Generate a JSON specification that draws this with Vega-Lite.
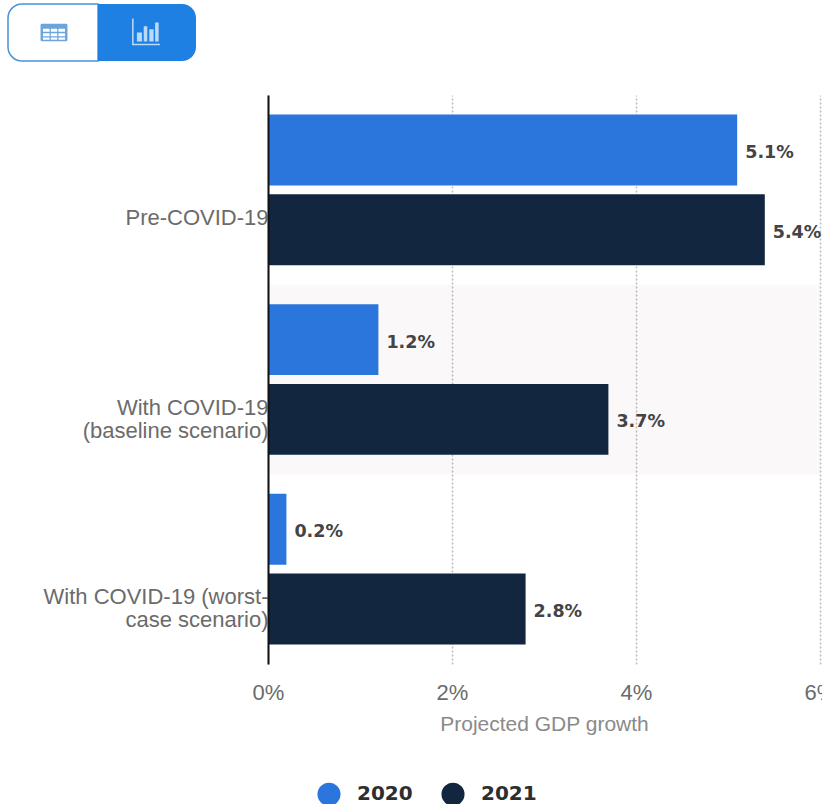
{
  "$schema": "https://vega.github.io/schema/vega-lite/v6.json",
  "padding": {"left": 7, "top": 3, "right": 0, "bottom": 0},
  "background": "#ffffff",
  "spacing": 33,
  "config": {"view": {"stroke": null}, "font": "Liberation Sans"},
  "datasets": {
    "growth": [
      {"scenario": "Pre-COVID-19", "year": "2020", "growth": 5.1, "label": "5.1%"},
      {"scenario": "Pre-COVID-19", "year": "2021", "growth": 5.4, "label": "5.4%"},
      {"scenario": "With COVID-19 (baseline scenario)", "year": "2020", "growth": 1.2, "label": "1.2%"},
      {"scenario": "With COVID-19 (baseline scenario)", "year": "2021", "growth": 3.7, "label": "3.7%"},
      {"scenario": "With COVID-19 (worst-case scenario)", "year": "2020", "growth": 0.2, "label": "0.2%"},
      {"scenario": "With COVID-19 (worst-case scenario)", "year": "2021", "growth": 2.8, "label": "2.8%"}
    ],
    "stripe": [
      {"scenario": "With COVID-19 (baseline scenario)", "start": 0, "end": 6}
    ],
    "toggle": [
      {"view": "table", "start": 0, "end": 90, "middle": 46},
      {"view": "chart", "start": 90, "end": 188, "middle": 138}
    ]
  },
  "vconcat": [
    {
      "width": 189,
      "height": 57,
      "data": {"name": "toggle"},
      "encoding": {
        "x": {"field": "start", "type": "quantitative", "scale": {"domain": [0, 189], "range": [-260, -71], "nice": false}, "axis": null}
      },
      "layer": [
        {
          "transform": [{"filter": "datum.view === 'table'"}],
          "mark": {"type": "bar", "fill": "#ffffff", "stroke": "#4a93d8", "strokeWidth": 1.5, "cornerRadiusTopLeft": 14, "cornerRadiusBottomLeft": 14, "height": 57},
          "encoding": {"x2": {"field": "end"}}
        },
        {
          "transform": [{"filter": "datum.view === 'chart'"}],
          "mark": {"type": "bar", "fill": "#1f80e3", "cornerRadiusTopRight": 14, "cornerRadiusBottomRight": 14, "height": 57},
          "encoding": {"x2": {"field": "end"}}
        },
        {
          "transform": [{"filter": "datum.view === 'table'"}],
          "mark": {"type": "point", "filled": true, "fill": "#2f7fc9", "stroke": null, "size": 600, "shape": "M-1-0.72H1Q1.1-0.72 1.1-0.6V0.6Q1.1 0.72 1 0.72H-1Q-1.1 0.72 -1.1 0.6V-0.6Q-1.1-0.72 -1-0.72ZM-0.9-0.3V-0.06H-0.36V-0.3ZM-0.26-0.3V-0.06H0.26V-0.3ZM0.36-0.3V-0.06H0.9V-0.3ZM-0.9 0.06V0.3H-0.36V0.06ZM-0.26 0.06V0.3H0.26V0.06ZM0.36 0.06V0.3H0.9V0.06ZM-0.9 0.4V0.6H-0.36V0.4ZM-0.26 0.4V0.6H0.26V0.4ZM0.36 0.4V0.6H0.9V0.4Z"},
          "encoding": {"x": {"field": "middle", "type": "quantitative"}}
        },
        {
          "transform": [{"filter": "datum.view === 'chart'"}],
          "mark": {"type": "point", "filled": true, "fill": "#ffffff", "stroke": null, "size": 640, "shape": "M-1.1-1.1H-0.98V0.88H1.1V1H-1.1ZM-0.72 0H-0.32V0.72H-0.72ZM-0.18-0.5H0.1V0.72H-0.18ZM0.26-0.25H0.6V0.72H0.26ZM0.72-0.8H1V0.72H0.72Z"},
          "encoding": {"x": {"field": "middle", "type": "quantitative"}}
        }
      ]
    },
    {
      "width": 552,
      "height": 569,
      "encoding": {
        "y": {
          "field": "scenario",
          "type": "nominal",
          "sort": ["Pre-COVID-19", "With COVID-19 (baseline scenario)", "With COVID-19 (worst-case scenario)"],
          "scale": {"paddingInner": 0, "paddingOuter": 0},
          "title": null,
          "axis": {
            "domain": true, "domainColor": "#111111", "domainWidth": 2, "zindex": 1,
            "ticks": false, "labelPadding": 0, "labelOffset": 28, "minExtent": 260, "maxExtent": 260,
            "labelColor": "#6b6b6b", "labelFontSize": 22, "labelLimit": 300, "labelLineHeight": 23,
            "labelExpr": "datum.value === 'With COVID-19 (baseline scenario)' ? ['With COVID-19', '(baseline scenario)'] : datum.value === 'With COVID-19 (worst-case scenario)' ? ['With COVID-19 (worst-', 'case scenario)'] : datum.value"
          }
        }
      },
      "layer": [
        {
          "data": {"name": "stripe"},
          "mark": {"type": "bar", "fill": "#a07080", "opacity": 0.05},
          "encoding": {
            "x": {
              "field": "start",
              "type": "quantitative",
              "scale": {"domain": [0, 6], "nice": false},
              "title": "Projected GDP growth",
              "axis": {
                "values": [0, 2, 4, 6],
                "labelExpr": "datum.value + '%'",
                "labelFlush": false,
                "encode": {"labels": {"update": {"align": {"signal": "datum.value === 6 ? 'right' : 'center'"}}}},
                "domain": false, "ticks": false,
                "grid": true, "gridColor": "#bdbdbd", "gridDash": [2, 2], "gridWidth": 1.5,
                "labelColor": "#6b6b6b", "labelFontSize": 22, "labelPadding": 18,
                "titleColor": "#8a8a8a", "titleFontSize": 21, "titleFontWeight": "normal", "titlePadding": 10,
                "zindex": 0
              }
            },
            "x2": {"field": "end"}
          }
        },
        {
          "data": {"name": "growth"},
          "mark": {"type": "bar"},
          "encoding": {
            "x": {"field": "growth", "type": "quantitative"},
            "yOffset": {"field": "year", "scale": {"paddingInner": 0.11, "paddingOuter": 0.245}},
            "color": {
              "field": "year",
              "type": "nominal",
              "scale": {"domain": ["2020", "2021"], "range": ["#2a76dc", "#12273f"]},
              "legend": {
                "title": null, "orient": "none", "legendX": 49, "legendY": 778,
                "direction": "horizontal", "symbolType": "circle", "symbolSize": 530,
                "symbolStrokeWidth": 0, "columnPadding": 28, "labelOffset": 16,
                "labelFont": "DejaVu Sans", "labelFontSize": 20, "labelFontWeight": "bold", "labelColor": "#2e2e2e"
              }
            }
          }
        },
        {
          "data": {"name": "growth"},
          "mark": {"type": "text", "align": "left", "dx": 8, "dy": 3, "font": "DejaVu Sans", "fontWeight": "bold", "fontSize": 17.5, "color": "#444444"},
          "encoding": {
            "x": {"field": "growth", "type": "quantitative"},
            "yOffset": {"field": "year", "scale": {"paddingInner": 0.11, "paddingOuter": 0.245}},
            "text": {"field": "label", "type": "nominal"}
          }
        }
      ]
    }
  ]
}
